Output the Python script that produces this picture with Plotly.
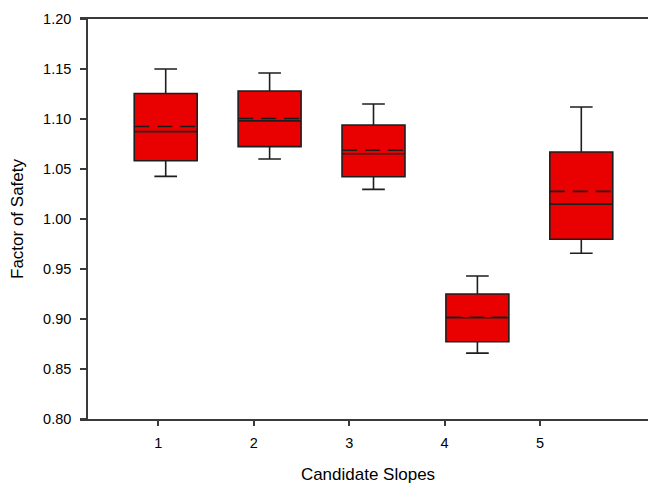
import plotly.graph_objects as go

# ---- data ----
slopes = [1, 2, 3, 4, 5]
tick_labels = ["1", "2", "3", "4", "5"]
upper_whisker = [1.150, 1.146, 1.115, 0.943, 1.112]
q3_values = [1.1255, 1.128, 1.094, 0.925, 1.067]
mean_values = [1.0925, 1.1005, 1.0687, 0.9018, 1.0276]
median_values = [1.0874, 1.0981, 1.0653, 0.9013, 1.0149]
q1_values = [1.0583, 1.0724, 1.0423, 0.8772, 0.9798]
lower_whisker = [1.0426, 1.0600, 1.0296, 0.8659, 0.9657]
y_ticks = [0.80, 0.85, 0.90, 0.95, 1.00, 1.05, 1.10, 1.15, 1.20]

FONT = "Liberation Sans, Arial, sans-serif"
RED = "rgb(233,0,0)"
LINE = "#1e1e1e"
AXIS = "#3a3a3a"
BOX_W = 0.606

# The source chart's category ticks are spaced slightly tighter than the
# boxes (a quirk of the original software); reproduce that offset.
TICK_START, TICK_STEP = 0.9286, 0.9187
tick_positions = [TICK_START + (s - 1) * TICK_STEP for s in slopes]

fig = go.Figure()
fig.add_trace(go.Box(
    x=slopes,
    q1=q1_values,
    median=median_values,
    q3=q3_values,
    lowerfence=lower_whisker,
    upperfence=upper_whisker,
    boxpoints=False,
    fillcolor=RED,
    line=dict(color=LINE, width=1.6),
    whiskerwidth=0.36,
    width=BOX_W,
    showlegend=False,
    hoverinfo="skip",
))

# dashed mean lines across each box
mx, my = [], []
for s, m in zip(slopes, mean_values):
    mx += [s - BOX_W / 2, s + BOX_W / 2, None]
    my += [m, m, None]
fig.add_trace(go.Scatter(
    x=mx, y=my, mode="lines",
    line=dict(color=LINE, width=1.6, dash="15px,8px"),
    showlegend=False, hoverinfo="skip",
))

# page body has an 8px default margin, so size the figure to fill the window
fig.update_layout(
    width=648,
    height=476,
    margin=dict(l=72, r=0, t=11, b=65),
    paper_bgcolor="white",
    plot_bgcolor="white",
    showlegend=False,
    font=dict(family=FONT, color="black"),
    xaxis=dict(
        range=[0.175, 5.719],
        tickmode="array",
        tickvals=tick_positions,
        ticktext=tick_labels,
        ticks="outside",
        ticklen=5,
        tickwidth=1.5,
        tickcolor=AXIS,
        showline=True,
        linecolor=AXIS,
        linewidth=1.6,
        mirror=True,
        showgrid=False,
        zeroline=False,
        automargin=False,
        ticklabelstandoff=5,
        tickfont=dict(size=14.5, family=FONT),
        title=dict(text="Candidate Slopes", font=dict(size=17, family=FONT), standoff=22),
    ),
    yaxis=dict(
        range=[0.80, 1.20],
        anchor="free",
        position=7 / 576,
        tickmode="array",
        tickvals=y_ticks,
        ticktext=[f"{v:.2f}" for v in y_ticks],
        ticks="outside",
        ticklen=6,
        tickwidth=1.5,
        tickcolor=AXIS,
        showline=True,
        linecolor=AXIS,
        linewidth=1.6,
        showgrid=False,
        zeroline=False,
        automargin=False,
        ticklabelstandoff=6,
        tickfont=dict(size=14.5, family=FONT),
        title=dict(text="Factor of Safety", font=dict(size=17, family=FONT), standoff=14),
    ),
)

fig.write_html("out.html")
